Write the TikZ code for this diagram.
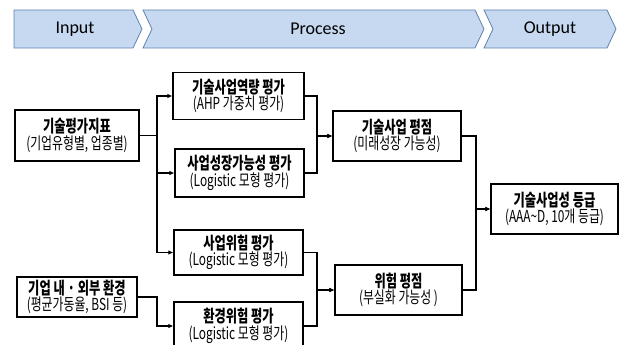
\documentclass[tikz,border=0pt]{standalone}
\usepackage{fontspec}
\setmainfont{Carlito}
\newfontfamily\kr[FakeStretch=0.72]{Noto Sans CJK KR}
\usetikzlibrary{arrows.meta}

\definecolor{stagefill}{RGB}{198,217,241}
\definecolor{stageline}{RGB}{95,130,175}

\newcommand{\twoline}[2]{{\bfseries\fontsize{17}{18}\selectfont #1}\\{\fontsize{16.5}{18}\selectfont #2}}

\tikzset{
  box/.style={draw, line width=1.1pt, fill=white, align=center, inner sep=0pt, font=\kr},
  stage/.style={draw=stageline, fill=stagefill, line width=0.8pt, line join=miter},
  stagetext/.style={font=\fontsize{18}{21}\selectfont},
}

\begin{document}
\begin{tikzpicture}[x=1pt, y=-1pt, line width=1.1pt, >={Latex[length=5pt,width=4.5pt]}]
			\useasboundingbox (0,0) rectangle (621,345);
			\clip (0,0) rectangle (621,345);

			% stages
			\path[stage] (14,10) -- (133,10) -- (142,29) -- (133,48) -- (14,48) -- cycle;
			\path[stage] (143,10) -- (475,10) -- (484,29) -- (475,48) -- (143,48) -- (152,29) -- cycle;
			\path[stage] (484,10) -- (607,10) -- (616,29) -- (607,48) -- (484,48) -- (493,29) -- cycle;
			\node[stagetext] (input) at (75,29) {Input};
			\node[stagetext] (process) at (318,29) {Process};
			\node[stagetext] (output) at (550,29) {Output};

			% boxes
			\node[box, minimum width=124pt, minimum height=51pt] (ind) at (77,135.5) {\twoline{기술평가지표}{(기업유형별, 업종별)}};
			\node[box, minimum width=120pt, minimum height=40pt] (env) at (77,297) {\twoline{기업 내 · 외부 환경}{(평균가동율, BSI 등)}};
			\node[box, minimum width=131pt, minimum height=47pt] (cap) at (238.5,96) {\twoline{기술사업역량 평가}{(AHP 가중치 평가)}};
			\node[box, minimum width=129pt, minimum height=48pt] (grow) at (239.5,173) {\twoline{사업성장가능성 평가}{(Logistic 모형 평가)}};
			\node[box, minimum width=129pt, minimum height=45pt] (brisk) at (238.5,252.5) {\twoline{사업위험 평가}{(Logistic 모형 평가)}};
			\node[box, minimum width=129pt, minimum height=48pt] (erisk) at (238.5,326) {\twoline{환경위험 평가}{(Logistic 모형 평가)}};
			\node[box, minimum width=128pt, minimum height=50pt] (tscore) at (397,136) {\twoline{기술사업 평점}{(미래성장 가능성)}};
			\node[box, minimum width=127pt, minimum height=50pt] (rscore) at (398.5,290) {\twoline{위험 평점}{(부실화 가능성 )}};
			\node[box, minimum width=127pt, minimum height=50pt] (grade) at (554.5,209) {\twoline{기술사업성 등급}{(AAA\textasciitilde D, 10개 등급)}};

			\coordinate (j1) at (157,0);
			\coordinate (j2) at (317,0);
			\coordinate (j3) at (476,0);

			% connectors
			\path[draw] (ind.east) -- (ind.east -| j1);
			\path[->,draw] (ind.east -| j1) |- (cap.west);
			\path[->,draw] (ind.east -| j1) |- (grow.west);
			\path[->,draw] (ind.east -| j1) |- (brisk.west);
			\path[->,draw] (env.east) -- (env.east -| j1) |- (erisk.west);

			\path[->,draw] (cap.east) -- (cap.east -| j2) |- (tscore.west);
			\path[->,draw] (grow.east) -- (grow.east -| j2) |- (tscore.west);
			\path[->,draw] (brisk.east) -- (brisk.east -| j2) |- (rscore.west);
			\path[->,draw] (erisk.east) -- (erisk.east -| j2) |- (rscore.west);

			\path[->,draw] (tscore.east) -- (tscore.east -| j3) |- (grade.west);
			\path[->,draw] (rscore.east) -- (rscore.east -| j3) |- (grade.west);
\end{tikzpicture}
\end{document}
